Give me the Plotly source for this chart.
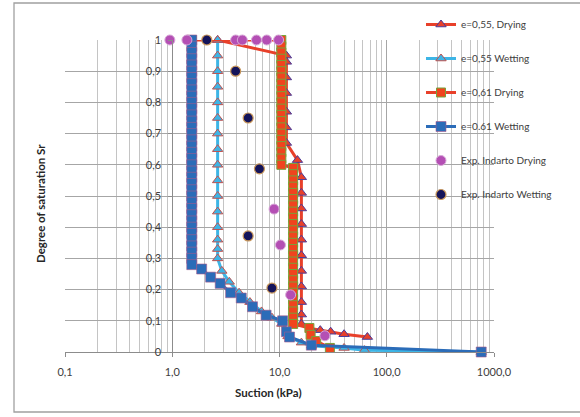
import plotly.graph_objects as go

# ---- model curves: suction (kPa) and degree of saturation Sr ----
dry055_s = [2.65, 11.6, 11.6, 11.6, 11.6, 11.6, 11.6, 11.6, 14.7,
            16.0, 16.0, 16.0, 16.0, 16.0, 16.0, 16.0, 16.0, 16.0, 16.0, 16.0,
            19.5, 24.0, 30.0, 40.0, 66.0]
dry055_sr = [1.00, 0.95, 0.93, 0.88, 0.83, 0.77, 0.72, 0.67, 0.615,
             0.56, 0.51, 0.46, 0.41, 0.36, 0.31, 0.26, 0.21, 0.16, 0.12, 0.09,
             0.075, 0.07, 0.065, 0.057, 0.048]

wet055_s = [2.65, 2.65, 2.65, 2.65, 2.65, 2.65, 2.65, 2.65, 2.65, 2.65,
            2.65, 2.65, 2.65, 2.65, 2.65, 2.65,
            2.9, 3.4, 4.2, 5.3, 6.8, 8.5, 10.5, 12.0, 16.0, 20.0, 40.0, 62.0, 760.0]
wet055_sr = [1.00, 0.95, 0.90, 0.85, 0.80, 0.75, 0.70, 0.65, 0.60, 0.55,
             0.50, 0.45, 0.40, 0.36, 0.33, 0.30,
             0.26, 0.225, 0.19, 0.16, 0.13, 0.11, 0.09, 0.05, 0.03, 0.02, 0.013, 0.006, 0.0]

dry061_s = [1.52, 10.4, 10.4, 10.4, 10.4, 10.4, 10.4, 10.4, 10.4, 10.4, 10.4,
            10.4, 10.4, 10.4, 10.4, 10.4, 10.4, 10.4, 10.4, 10.4, 10.4, 10.4,
            13.4, 13.4, 13.4, 13.4, 13.4, 13.4, 13.4, 13.4, 13.4, 13.4, 13.4,
            13.4, 13.4, 13.4, 13.4, 13.4, 13.4, 13.4, 13.4, 13.4, 13.4, 13.4,
            13.4, 13.4, 13.4, 13.4,
            19.0, 19.5, 22.0, 29.5]
dry061_sr = [1.00, 1.00, 0.98, 0.96, 0.94, 0.92, 0.90, 0.88, 0.86, 0.84, 0.82,
             0.80, 0.78, 0.76, 0.74, 0.72, 0.70, 0.68, 0.66, 0.64, 0.62, 0.60,
             0.59, 0.57, 0.55, 0.53, 0.51, 0.49, 0.47, 0.45, 0.43, 0.41, 0.39,
             0.37, 0.35, 0.33, 0.31, 0.29, 0.27, 0.25, 0.23, 0.21, 0.19, 0.17,
             0.15, 0.13, 0.11, 0.09,
             0.077, 0.055, 0.035, 0.013]

wet061_s = [1.52, 1.52, 1.52, 1.52, 1.52, 1.52, 1.52, 1.52, 1.52, 1.52,
            1.52, 1.52, 1.52, 1.52, 1.52, 1.52, 1.52, 1.52, 1.52, 1.52,
            1.52, 1.52, 1.52, 1.52, 1.52, 1.52, 1.52, 1.52, 1.52, 1.52,
            1.52, 1.52, 1.52, 1.52, 1.52, 1.52, 1.52,
            1.88, 2.28, 2.8, 3.5, 4.4, 5.6, 7.5, 10.7, 11.6, 12.4, 19.8, 760.0]
wet061_sr = [1.00, 0.98, 0.96, 0.94, 0.92, 0.90, 0.88, 0.86, 0.84, 0.82,
             0.80, 0.78, 0.76, 0.74, 0.72, 0.70, 0.68, 0.66, 0.64, 0.62,
             0.60, 0.58, 0.56, 0.54, 0.52, 0.50, 0.48, 0.46, 0.44, 0.42,
             0.40, 0.38, 0.36, 0.34, 0.32, 0.30, 0.28,
             0.266, 0.24, 0.22, 0.19, 0.173, 0.145, 0.118, 0.10, 0.065, 0.048, 0.022, 0.0]

# ---- experimental data (Indarto) ----
exp_dry_s = [0.95, 1.37, 3.9, 4.5, 6.1, 7.6, 9.8, 8.9, 10.2, 12.7, 26.5]
exp_dry_sr = [1.0, 1.0, 1.0, 1.0, 1.0, 1.0, 1.0, 0.458, 0.343, 0.183, 0.052]

exp_wet_s = [2.1, 3.9, 5.1, 6.5, 5.1, 8.5]
exp_wet_sr = [1.0, 0.90, 0.75, 0.587, 0.372, 0.205]

# ---- axis ticks ----
x_ticks = [0.1, 1, 10, 100, 1000]
x_labels = ["0,1", "1,0", "10,0", "100,0", "1000,0"]
y_ticks = [0, 0.1, 0.2, 0.3, 0.4, 0.5, 0.6, 0.7, 0.8, 0.9, 1.0]
y_labels = ["0", "0,1", "0,2", "0,3", "0,4", "0,5", "0,6", "0,7", "0,8", "0,9", "1"]
x_minor = [m * d for d in (0.1, 1, 10, 100) for m in range(2, 10)]

FONT = "Lato, 'Liberation Sans', Arial, sans-serif"
W, H = 580, 417
L, R, T, B = 65, 86, 40, 65
PW, PH = W - L - R, H - T - B


def px_x(p):
    return (p - L) / PW


def px_y(p):
    return (H - B - p) / PH


fig = go.Figure()

fig.add_trace(go.Scatter(
    x=dry055_s, y=dry055_sr, name="e=0,55, Drying", mode="lines+markers",
    line=dict(color="#e8402a", width=3),
    marker=dict(symbol="triangle-up", size=9, color="#e8402a",
                line=dict(color="#4b3c9a", width=1)),
    legendgroup="a", cliponaxis=False))

fig.add_trace(go.Scatter(
    x=wet055_s, y=wet055_sr, name="e=0,55 Wetting", mode="lines+markers",
    line=dict(color="#3db5e6", width=3),
    marker=dict(symbol="triangle-up", size=9, color="#3db5e6",
                line=dict(color="#c0504d", width=1)),
    legendgroup="b", cliponaxis=False))

fig.add_trace(go.Scatter(
    x=dry061_s, y=dry061_sr, name="e=0,61 Drying", mode="lines+markers",
    line=dict(color="#e8402a", width=3),
    marker=dict(symbol="square", size=9, color="#f0441e",
                line=dict(color="#77a33a", width=1)),
    legendgroup="c", cliponaxis=False))

fig.add_trace(go.Scatter(
    x=wet061_s, y=wet061_sr, name="e=0.61 Wetting", mode="lines+markers",
    line=dict(color="#2b6cb8", width=3),
    marker=dict(symbol="square", size=10, color="#2b6cb8",
                line=dict(color="#a85a8c", width=0.6)),
    legendgroup="d", cliponaxis=False))

fig.add_trace(go.Scatter(
    x=exp_dry_s, y=exp_dry_sr, name="Exp. Indarto Drying", mode="markers",
    marker=dict(symbol="circle", size=10, color="#b44fb4",
                line=dict(color="#d8a8d8", width=1)),
    legendgroup="e", cliponaxis=False))

fig.add_trace(go.Scatter(
    x=exp_wet_s, y=exp_wet_sr, name="Exp. Indarto Wetting", mode="markers",
    marker=dict(symbol="circle", size=10, color="#14145a",
                line=dict(color="#c8965a", width=1.2)),
    legendgroup="f", cliponaxis=False))

fig.update_layout(
    width=W, height=H,
    margin=dict(l=L, r=R, t=T, b=B, autoexpand=False),
    paper_bgcolor="white", plot_bgcolor="white",
    font=dict(family=FONT, size=11, color="#404040"),
    showlegend=True,
    legend=dict(x=px_x(421), y=px_y(10), xanchor="left", yanchor="top",
                bgcolor="rgba(0,0,0,0)", font=dict(size=10, color="#404040"),
                tracegroupgap=15),
    xaxis=dict(type="log", range=[-1, 3],
               tickvals=x_ticks, ticktext=x_labels,
               showgrid=True, gridcolor="#a6a6a6", gridwidth=1,
               minor=dict(tickvals=x_minor, showgrid=True,
                          gridcolor="#c4c4c4", gridwidth=1),
               showline=True, linecolor="#8c8c8c", linewidth=1,
               ticks="outside", ticklen=4, tickcolor="#8c8c8c",
               ticklabelstandoff=6, zeroline=False),
    yaxis=dict(range=[0, 1], tickvals=y_ticks, ticktext=y_labels,
               anchor="free", position=0.25,
               showgrid=True, gridcolor="#a6a6a6", gridwidth=1,
               showline=True, linecolor="#8c8c8c", linewidth=1,
               ticks="outside", ticklen=4, tickcolor="#8c8c8c",
               ticklabelstandoff=5, zeroline=False),
)

# axis titles
fig.add_annotation(text="<b>Suction (kPa)</b>", xref="paper", yref="paper",
                   x=px_x(268), y=px_y(392), xanchor="center", yanchor="middle",
                   showarrow=False, font=dict(size=11.5, color="#262626"))
fig.add_annotation(text="<b>Degree of saturation Sr</b>", xref="paper", yref="paper",
                   x=px_x(40), y=px_y(204), xanchor="center", yanchor="middle",
                   showarrow=False, textangle=-90,
                   font=dict(size=11.5, color="#262626"))

# chart-area frame
fig.add_shape(type="rect", xref="paper", yref="paper",
              x0=px_x(14), x1=px_x(585), y0=px_y(412), y1=px_y(3),
              line=dict(color="#a0a0a0", width=1.3), fillcolor="rgba(0,0,0,0)",
              layer="below")

fig.write_html("out.html")
